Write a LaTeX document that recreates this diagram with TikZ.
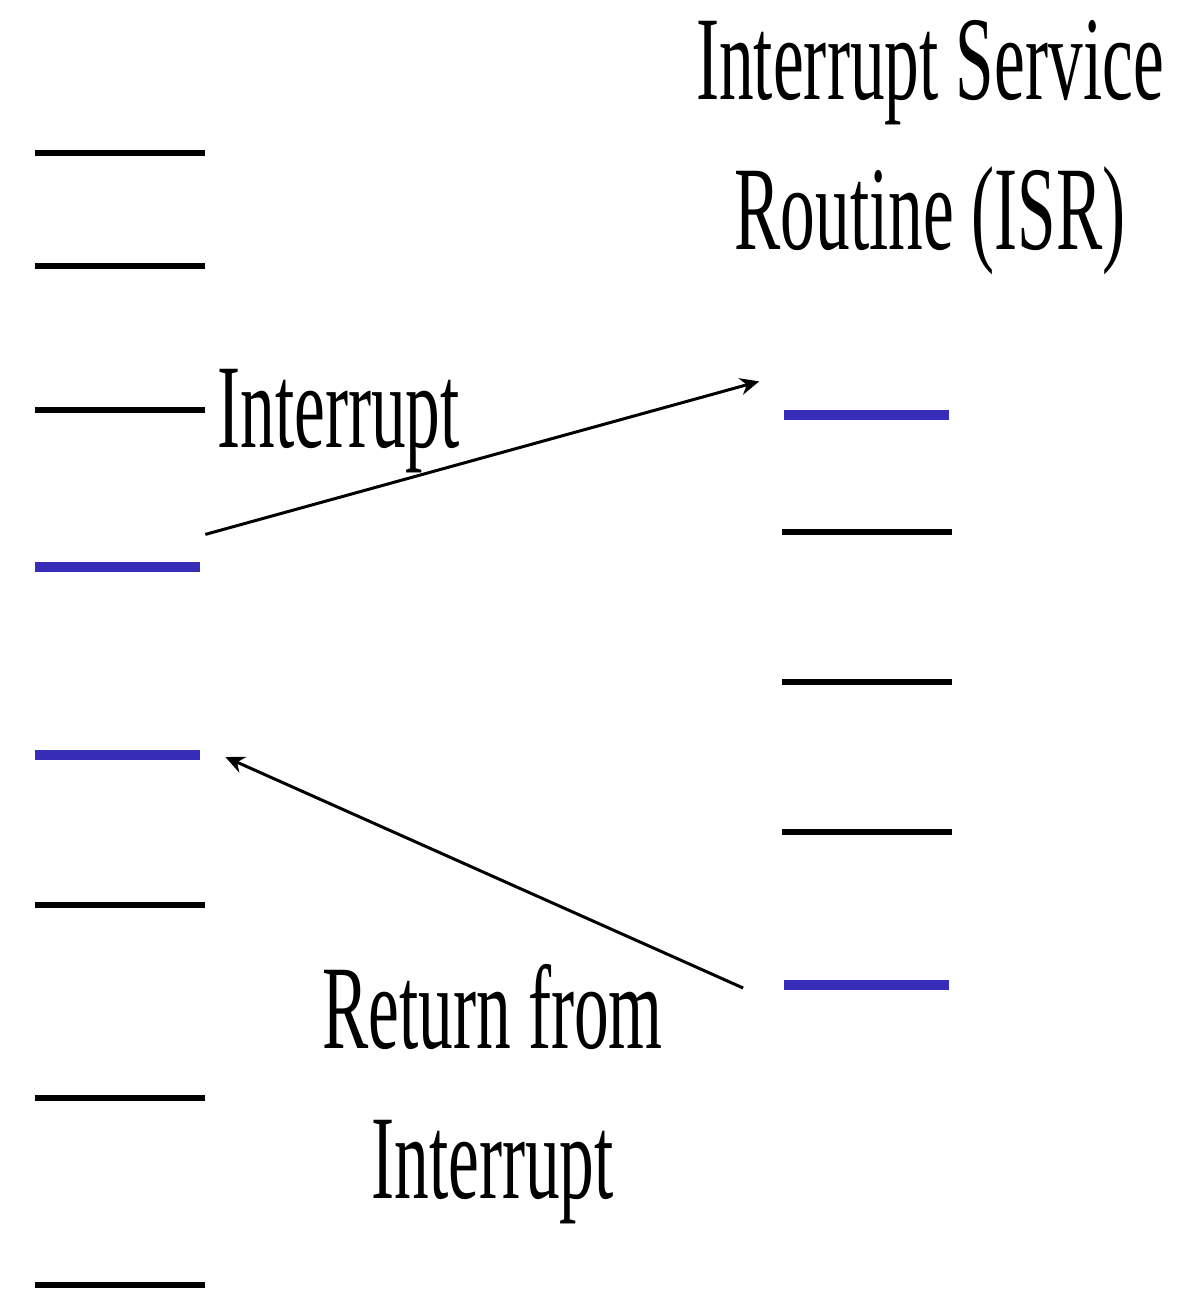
\documentclass[tikz,border=0pt]{standalone}
\usepackage{fontspec}
\setmainfont{Liberation Serif}
\newfontfamily\narrowfont[FakeStretch=0.58]{Liberation Serif}
\usetikzlibrary{arrows.meta}
\definecolor{isrblue}{RGB}{55,45,185}
\tikzset{
  instr/.style={fill=black, inner sep=0pt, minimum width=3.4cm, minimum height=0.11cm},
  hot/.style={fill=isrblue, inner sep=0pt, minimum width=3.3cm, minimum height=0.21cm},
  txt/.style={inner sep=0pt, align=center, font=\narrowfont\fontsize{68}{85}\selectfont},
  jump/.style={line width=0.06cm, -{Stealth[length=0.38cm,width=0.34cm]}}
}
\begin{document}
\begin{tikzpicture}
  \useasboundingbox (0,0) rectangle (23.8,-25.92);
  % main program
  \node (m1) at (2.4,-3.06) [instr] {};
  \node (m2) at (2.4,-5.32) [instr] {};
  \node (m3) at (2.4,-8.2) [instr] {};
  \node (m4) at (2.35,-11.34) [hot] {};
  \node (m5) at (2.35,-15.1) [hot] {};
  \node (m6) at (2.4,-18.1) [instr] {};
  \node (m7) at (2.4,-21.96) [instr] {};
  \node (m8) at (2.4,-25.7) [instr] {};

  % service routine
  \node (r1) at (17.32,-8.3) [hot] {};
  \node (r2) at (17.34,-10.64) [instr] {};
  \node (r3) at (17.34,-13.64) [instr] {};
  \node (r4) at (17.34,-16.64) [instr] {};
  \node (r5) at (17.32,-19.7) [hot] {};

  \node (isr) at (18.6,-2.95) [txt] {Interrupt Service\\Routine (ISR)};
  \node (int) at (4.34,-8.94) [txt, anchor=base west] {Interrupt};
  \node (ret) at (9.85,-21.88) [txt] {Return from\\Interrupt};

  \draw[jump] ([xshift=0.1cm,yshift=0.54cm]m4.north east) -- ([xshift=-0.48cm,yshift=0.56cm]r1.north west);
  \draw[jump] ([xshift=-0.8cm,yshift=-0.06cm]r5.west) -- ([xshift=0.5cm,yshift=-0.04cm]m5.east);
\end{tikzpicture}
\end{document}
